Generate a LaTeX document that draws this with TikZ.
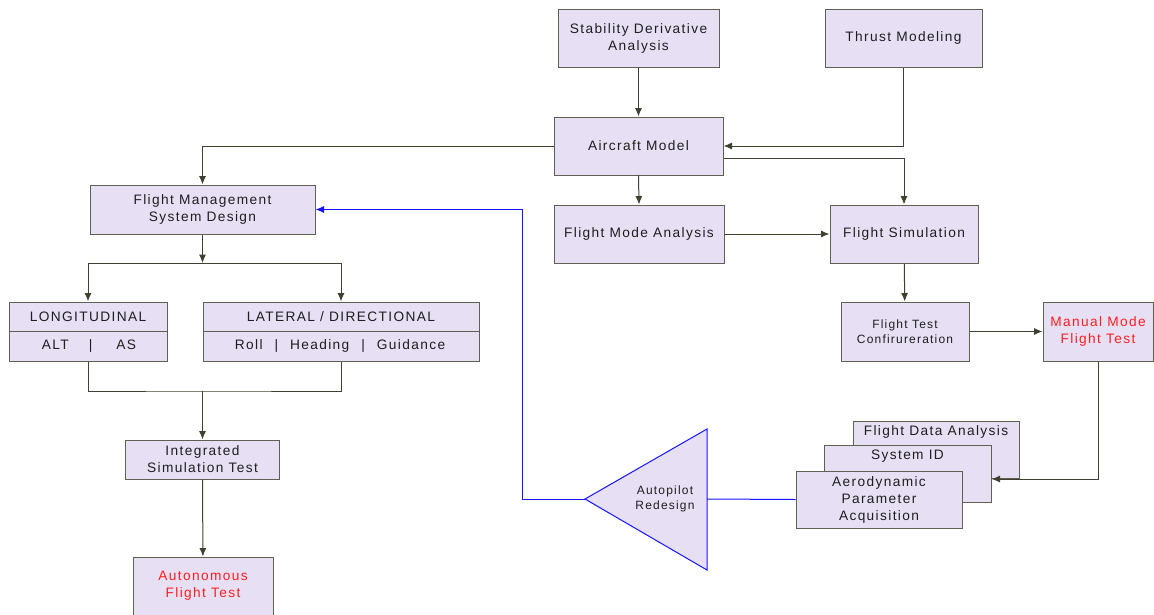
\documentclass[tikz,border=0pt]{standalone}
\usepackage{fontspec}
\setmainfont{Liberation Sans}[LetterSpace=10]
\usetikzlibrary{arrows.meta}
\definecolor{boxfill}{RGB}{231,224,245}
\definecolor{boxline}{RGB}{95,95,82}
\definecolor{wire}{RGB}{64,64,48}
\definecolor{ink}{RGB}{30,30,30}
\definecolor{hotred}{RGB}{255,30,30}
\definecolor{fbblue}{RGB}{20,20,255}

\begin{document}
\begin{tikzpicture}[x=1pt,y=-1pt,>={Latex[length=8.5pt,width=7pt]},
  block/.style={draw=boxline,fill=boxfill,line width=1pt,text=ink,
    align=center,inner sep=0pt,font=\fontsize{13.7}{17}\selectfont},
  small/.style={font=\fontsize{12}{15}\selectfont},
  hot/.style={text=hotred},
  txt/.style={text=ink,inner sep=0pt,align=center,
    font=\fontsize{13.7}{17}\selectfont},
  link/.style={->,draw=wire,line width=1pt},
  plain/.style={draw=wire,line width=1pt},
  fb/.style={draw=fbblue,line width=1pt}]
  \useasboundingbox (0,0) rectangle (1154,614);

  % top row
  \node[block,minimum width=161pt,minimum height=58pt] (sda) at (638.5,38) {Stability Derivative\\Analysis};
  \node[block,minimum width=157pt,minimum height=58pt] (thr) at (903.5,38) {Thrust Modeling};
  \node[block,minimum width=169pt,minimum height=58pt] (acm) at (638.5,146) {Aircraft Model};
  \node[block,minimum width=170pt,minimum height=58pt] (fma) at (639,234) {Flight Mode Analysis};
  \node[block,minimum width=148pt,minimum height=58pt] (fsim) at (904,234) {Flight Simulation};
  \node[block,small,minimum width=128pt,minimum height=59pt] (ftc) at (905,331.5) {Flight Test\\Confirureration};
  \node[block,hot,minimum width=110pt,minimum height=59pt] (mmt) at (1098,331.5) {Manual Mode\\Flight Test};

  % left column
  \node[block,minimum width=225pt,minimum height=49pt] (fms) at (202.5,209.5) {Flight Management\\System Design};
  \node[block,minimum width=158pt,minimum height=59pt] (lon) at (88,331.5) {};
  \draw[plain,draw=boxline] (lon.west) -- (lon.east);
  \node[txt] (lontop) at (88,317) {LONGITUDINAL};
  \node[txt] (lonbot) at (89,346) {ALT\hspace{20pt}|\hspace{24pt}AS};
  \node[block,minimum width=276pt,minimum height=59pt] (lat) at (341,331.5) {};
  \draw[plain,draw=boxline] (lat.west) -- (lat.east);
  \node[txt] (lattop) at (341,317) {LATERAL / DIRECTIONAL};
  \node[txt] (latbot) at (340,346) {Roll\hspace{12pt}|\hspace{12pt}Heading\hspace{12pt}|\hspace{12pt}Guidance};
  \node[block,minimum width=154pt,minimum height=39pt] (ist) at (202.5,459.5) {Integrated\\Simulation Test};
  \node[block,hot,minimum width=140pt,minimum height=58pt] (aft) at (203,586) {Autonomous\\Flight Test};

  % stacked analysis boxes
  \node[block,minimum width=166pt,minimum height=57pt] (fda) at (936,449.5) {};
  \node[txt,anchor=north,yshift=-5pt] (fdatxt) at (fda.north) {Flight Data Analysis};
  \node[block,minimum width=167pt,minimum height=57pt] (sid) at (907.5,473.5) {};
  \node[txt,anchor=north,yshift=-5pt] (sidtxt) at (sid.north) {System ID};
  \node[block,minimum width=166pt,minimum height=57pt] (apa) at (879,499.5) {Aerodynamic\\Parameter\\Acquisition};

  % autopilot triangle
  \filldraw[fb,fill=boxfill] (585,499) coordinate (apex) -- (707,429) -- (707,570) -- cycle;
  \coordinate (tribase) at (707,499);
  \node[txt,small] (apr) at (665,499) {Autopilot\\Redesign};

  \coordinate (split) at (202.5,263);
  \coordinate (merge) at (202.5,391);
  \coordinate (bend) at (522,499);

  \draw[link] (sda) -- (acm);
  \draw[link] (thr.south) |- (acm.east);
  \draw[link] ([yshift=-12pt]acm.east) -| (fsim.north);
  \draw[link] (acm.south) -- (fma.north);
  \draw[link] (acm.west) -| (fms.north);
  \draw[link] (fma) -- (fsim);
  \draw[link] (fsim) -- (ftc);
  \draw[link] (ftc) -- (mmt);
  \draw[link] (mmt.south) |- ([yshift=-5.5pt]sid.east);
  \draw[link] (fms.south) -- (split);
  \draw[link] (split) -| (lon.north);
  \draw[link] (split) -| (lat.north);
  \draw[plain] (lon.south) |- (merge) -| (lat.south);
  \draw[link] (merge) -- (ist.north);
  \draw[link] (ist) -- (aft);
  % feedback path
  \draw[fb] (apa.west) -- (tribase);
  \draw[fb,->] (apex) -- (bend) |- (fms.east);
\end{tikzpicture}
\end{document}
